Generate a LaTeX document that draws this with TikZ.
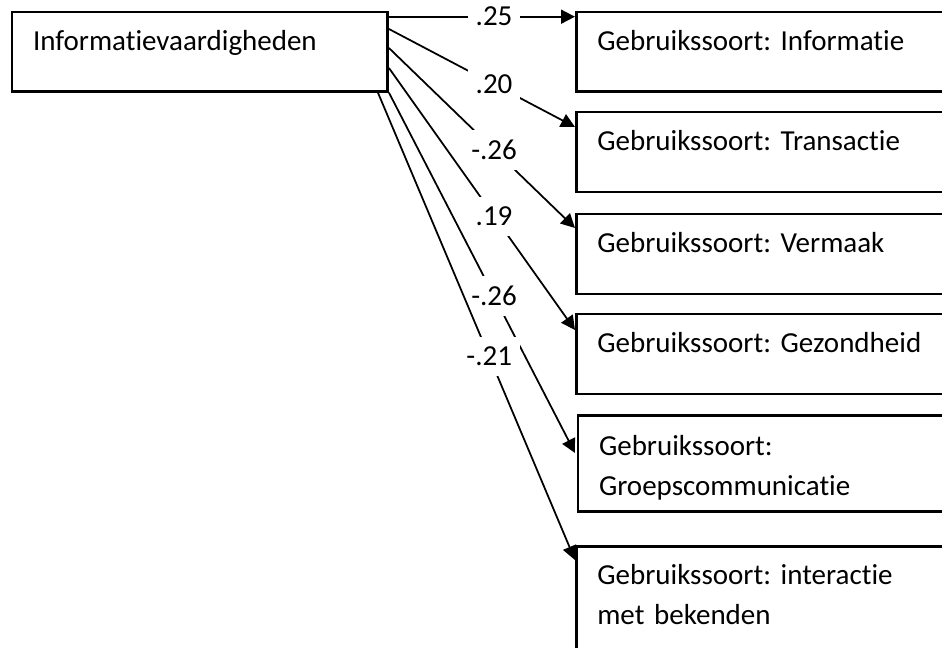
\documentclass[tikz,border=0pt]{standalone}
\usepackage{fontspec}
\setmainfont{Carlito}[Ligatures=NoCommon]
\usetikzlibrary{arrows.meta,calc}
\frenchspacing

\begin{document}
\begin{tikzpicture}[line width=1pt, font=\fontsize{16.5}{22.8}\selectfont,
  box/.style={draw, line width=1.5pt, anchor=north west, inner xsep=0.420cm, inner ysep=0pt, text height=0.770cm, align=left},
  coef/.style={fill=white, inner xsep=0.160cm, inner ysep=0.200cm, pos=0.565},
  arr/.style={-{Triangle[length=0.280cm,width=0.280cm]}}]
  \useasboundingbox (0,0) rectangle (18.840,-12.960);
  \clip (0,0) rectangle (18.840,-12.960);
  \node[box, text width=6.672cm, text depth=0.816cm] (src) at (0.214,-0.214) {Informatievaardigheden};
  \node[box, text width=7.060cm, text depth=0.816cm] (info) at (11.500,-0.214) {Gebruikssoort: Informatie};
  \node[box, text width=7.060cm, text depth=0.830cm] (trans) at (11.500,-2.214) {Gebruikssoort: Transactie};
  \node[box, text width=7.060cm, text depth=0.830cm] (verm) at (11.500,-4.254) {Gebruikssoort: Vermaak};
  \node[box, text width=7.060cm, text depth=0.830cm] (gez) at (11.500,-6.254) {Gebruikssoort: Gezondheid};
  \node[box, text width=7.026cm, text height=0.800cm, text depth=1.120cm] (groep) at (11.534,-8.280) {Gebruikssoort:\\Groepscommunicatie};
  \node[box, text width=7.060cm, text depth=2.500cm] (inter) at (11.500,-10.900) {Gebruikssoort: interactie\\met bekenden};
  \draw[arr] ($(src.north east)+(0,-0.120)$) -- node[coef] {.25} ($(info.north west)+(0,-0.120)$);
  \draw[arr] ($(src.north east)+(0,-0.366)$) -- node[coef] {.20} ($(trans.north west)+(0,-0.326)$);
  \draw[arr] ($(src.north east)+(0,-0.746)$) -- node[coef] {-.26} ($(verm.north west)+(0,-0.306)$);
  \draw[arr] ($(src.north east)+(0,-1.146)$) -- node[coef] {.19} ($(gez.north west)+(0,-0.346)$);
  \draw[arr] (src.south east) -- node[coef] {-.26} ($(groep.north west)+(-0.034,-0.780)$);
  \draw[arr] ($(src.south east)+(-0.220,0)$) -- node[coef] {-.21} ($(inter.north west)+(0,-0.300)$);
\end{tikzpicture}
\end{document}
